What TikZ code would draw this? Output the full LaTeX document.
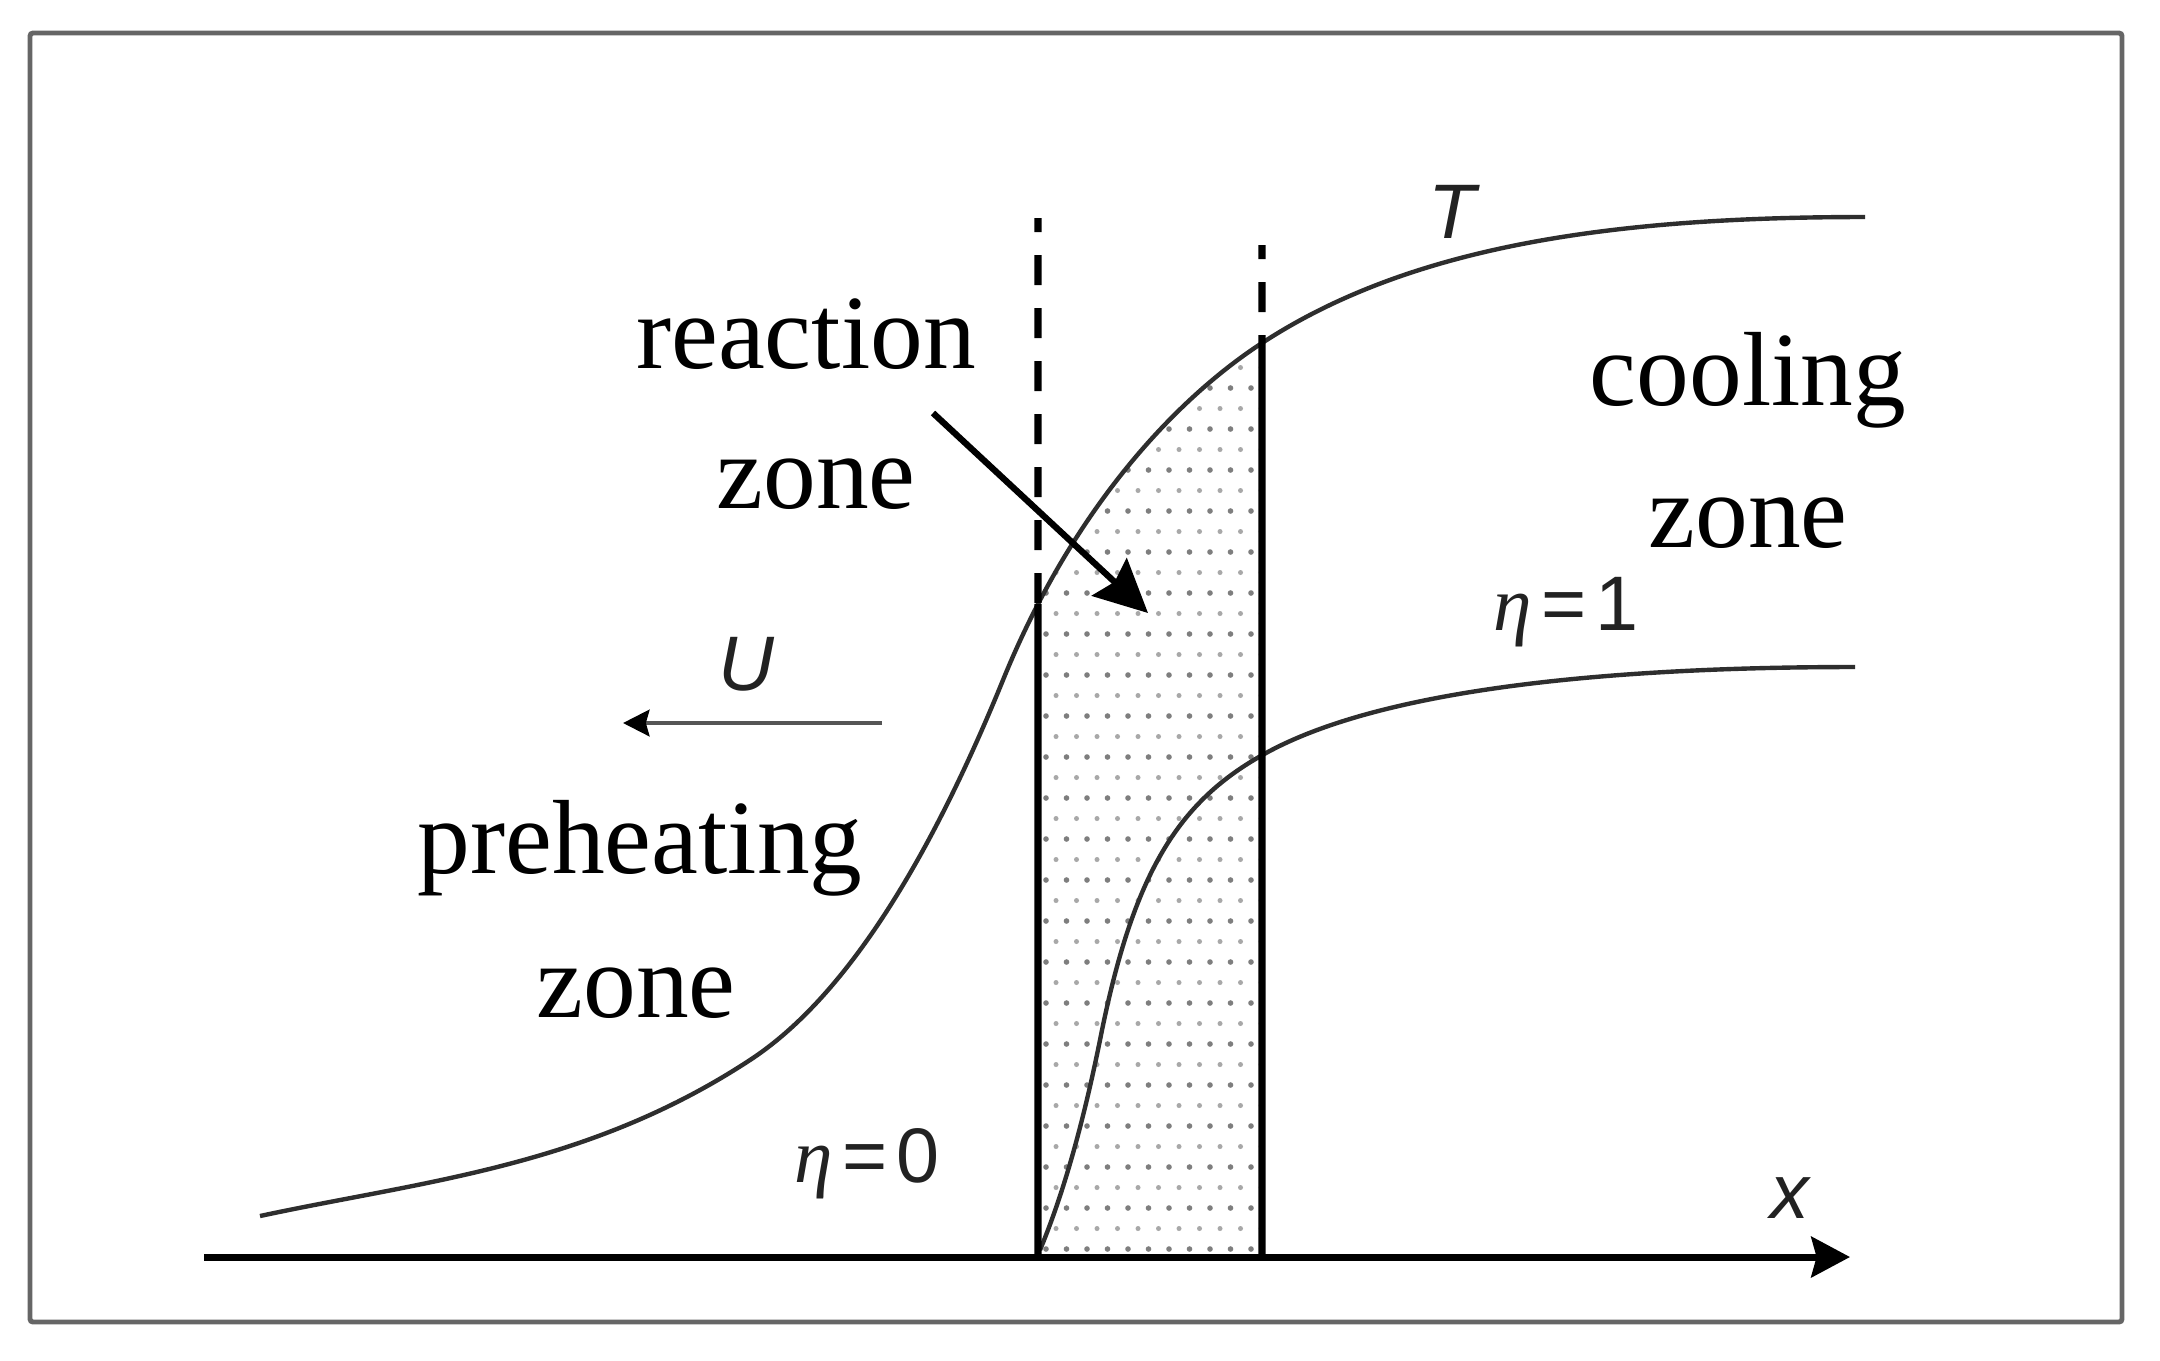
\documentclass[tikz,border=0pt]{standalone}
\usepackage{fontspec}
\setmainfont{Liberation Serif}
\newfontfamily\lsans{Liberation Sans}
\newfontfamily\lserif{Liberation Serif}
\usetikzlibrary{arrows.meta,intersections}
\definecolor{framegray}{HTML}{666666}
\definecolor{curvegray}{HTML}{2E2E2E}
\definecolor{ugray}{HTML}{555555}
\definecolor{dotdark}{HTML}{7E7E7E}
\definecolor{dotlight}{HTML}{A8A8A8}
\definecolor{labelink}{HTML}{222222}
\tikzset{
  frame/.style={draw=framegray, line width=1.4pt, rounded corners=0.3mm},
  curve/.style={draw=curvegray, line width=1.25pt},
  zoneline/.style={draw=black, line width=2.1pt},
  dashline/.style={draw=black, line width=2.1pt, dash pattern=on 3mm off 2.3mm, dash phase=1.6mm},
  axisline/.style={draw=black, line width=2.0pt, -{Stealth[length=11pt,width=11.5pt,inset=1.5pt]}},
  bigarrow/.style={draw=black, line width=1.8pt, -{Stealth[length=15pt,width=14.5pt,inset=2pt]}},
  uarrow/.style={draw=ugray, line width=1.3pt, -{Stealth[length=7.5pt,width=7.5pt,inset=1pt,color=black]}},
  zonetext/.style={font=\fontsize{30}{36}\selectfont, anchor=base, inner sep=0pt},
  mathlabel/.style={font=\lsans\fontsize{22}{26}\selectfont, text=labelink, anchor=base, inner sep=0pt},
}
\def\Tpath{(260,1216) .. controls (423,1181) and (587,1167) .. (750,1060) .. controls (834,1005) and (919,886) .. (1003,680) .. controls (1073,508) and (1176,399) .. (1262,343) .. controls (1412,245) and (1615,217) .. (1865,217)}
\begin{document}
\begin{tikzpicture}[x=0.1mm, y=-0.1mm]
\useasboundingbox (0,0) rectangle (2160,1360);
\fill[white] (0,0) rectangle (2160,1360);

% frame
\draw[frame] (30,33) rectangle (2122,1322);

% key coordinates
\coordinate (L0) at (1038,1257);
\coordinate (Ld) at (1038,218);
\coordinate (R0) at (1262,1257);
\coordinate (Rd) at (1262,245);
\coordinate (ax0) at (204,1257);
\coordinate (ax1) at (1850,1257);

% dotted reaction zone
\begin{scope}
  \clip (1038,200) rectangle (1262,1257);
  \clip \Tpath -- (1865,1300) -- (260,1300) -- cycle;
  \foreach \r in {0,2,...,46} {
    \foreach \c in {0,...,11} {
      \fill[dotdark] ({1046+\c*20.5},{1249-\r*20.5}) circle[radius=0.28mm];
    }
  }
  \foreach \r in {1,3,...,45} {
    \foreach \c in {0,...,11} {
      \fill[dotlight] ({1056+\c*20.5},{1249-\r*20.5}) circle[radius=0.25mm];
    }
  }
\end{scope}

% T curve
\draw[curve, name path=Tcurve] \Tpath;

% eta curve
\draw[curve] (1040,1250) .. controls (1067,1185) and (1086,1109) .. (1100,1040) .. controls (1133,873) and (1178,801) .. (1266,753) .. controls (1386,687) and (1620,667) .. (1855,667);

% zone boundaries meet the T curve
\path[name path=Lv] (Ld) -- (L0);
\path[name path=Rv] (Rd) -- (R0);
\path[name intersections={of=Tcurve and Lv, by=Lt}];
\path[name intersections={of=Tcurve and Rv, by=Rt}];
\draw[dashline] (Ld) -- (Lt);
\draw[dashline] (Rd) -- (Rt);
\draw[zoneline] (Lt) -- (L0);
\draw[zoneline] (Rt) -- (R0);

% axis
\draw[axisline] (ax0) -- (ax1);

% arrows
\coordinate (ra0) at (933,413);
\coordinate (ra1) at (1148,613);
\draw[bigarrow] (ra0) -- (ra1);
\coordinate (u0) at (882,723);
\coordinate (u1) at (623,723);
\draw[uarrow] (u0) -- (u1);

% zone labels
\node[zonetext] (rz1) at (806,368) {reaction};
\node[zonetext] (rz2) at (816,508) {zone};
\node[zonetext] (cz1) at (1748,405) {cooling};
\node[zonetext] (cz2) at (1748,547) {zone};
\node[zonetext] (pz1) at (640,873) {preheating};
\node[zonetext] (pz2) at (636,1017) {zone};

% math labels
\node[mathlabel] (lT) at (1452,238) {\itshape T};
\node[mathlabel] (lU) at (746,690) {\itshape U};
\node[mathlabel] (lx) at (1790,1218) {\itshape x};
\node[mathlabel] (le1) at (1566,630) {{\lserif\itshape η}\kern2.5pt=\kern2.5pt1};
\node[mathlabel] (le0) at (867,1182) {{\lserif\itshape η}\kern2.5pt=\kern2.5pt0};
\end{tikzpicture}
\end{document}
